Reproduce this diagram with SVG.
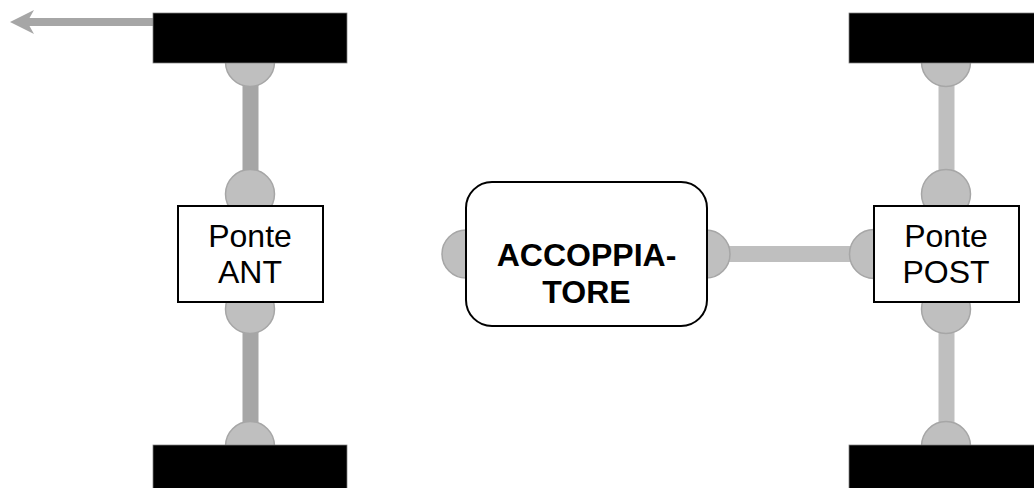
<svg xmlns="http://www.w3.org/2000/svg" width="1034" height="488" viewBox="0 0 1034 488">
<style>
.j{fill:#bfbfbf;stroke:#a6a6a6;stroke-width:1.5}
.w{fill:#000;stroke:#7f7f7f;stroke-width:.75}
.b{fill:#fff;stroke:#000;stroke-width:2}
.t{font-family:"Liberation Sans",Arial,sans-serif;font-size:32px;fill:#000;text-anchor:middle}
.bold{font-weight:700}
</style>
<rect width="1034" height="488" fill="#fff"/>
<g id="connectors">
<rect x="242.500" y="80" width="16" height="100" fill="#a6a6a6"/>
<rect x="242.500" y="325" width="16" height="105" fill="#a6a6a6"/>
<rect x="938.500" y="80" width="16" height="100" fill="#bfbfbf"/>
<rect x="938.500" y="325" width="16" height="105" fill="#bfbfbf"/>
<rect x="725" y="246" width="130" height="16" fill="#bfbfbf"/>
<path d="M154 18H29.500L34 10L10 22L34 34L29.500 26H154Z" fill="#a6a6a6"/>
</g>
<g id="joints-ant">
<circle class="j" cx="250" cy="62" r="24.500"/>
<circle class="j" cx="250" cy="194" r="24.500"/>
<circle class="j" cx="250" cy="309" r="24.500"/>
<circle class="j" cx="250" cy="446" r="24.500"/>
</g>
<g id="joints-post">
<circle class="j" cx="946" cy="62" r="24.500"/>
<circle class="j" cx="946" cy="194" r="24.500"/>
<circle class="j" cx="946" cy="309" r="24.500"/>
<circle class="j" cx="946" cy="446" r="24.500"/>
<circle class="j" cx="874" cy="254" r="24.500"/>
</g>
<g id="joints-coupler">
<circle class="j" cx="466" cy="254" r="24"/>
<circle class="j" cx="706" cy="254" r="24"/>
</g>
<g id="wheel-front-left"><rect class="w" x="153" y="13" width="194" height="50"/></g>
<g id="wheel-rear-left"><rect class="w" x="153" y="445" width="194" height="50"/></g>
<g id="wheel-front-right"><rect class="w" x="849" y="13" width="194" height="50"/></g>
<g id="wheel-rear-right"><rect class="w" x="849" y="445" width="194" height="50"/></g>
<g id="ponte-ant">
<rect class="b" x="178" y="206" width="145" height="96"/>
<text class="t" x="250" y="247">Ponte</text>
<text class="t" x="250" y="283">ANT</text>
</g>
<g id="ponte-post">
<rect class="b" x="874" y="206" width="145" height="96"/>
<text class="t" x="946" y="247">Ponte</text>
<text class="t" x="946" y="283">POST</text>
</g>
<g id="accoppiatore">
<rect class="b" x="466" y="182" width="241" height="144" rx="26" ry="26"/>
<text class="t bold" x="586.500" y="266">ACCOPPIA-</text>
<text class="t bold" x="586.500" y="303">TORE</text>
</g>
</svg>
